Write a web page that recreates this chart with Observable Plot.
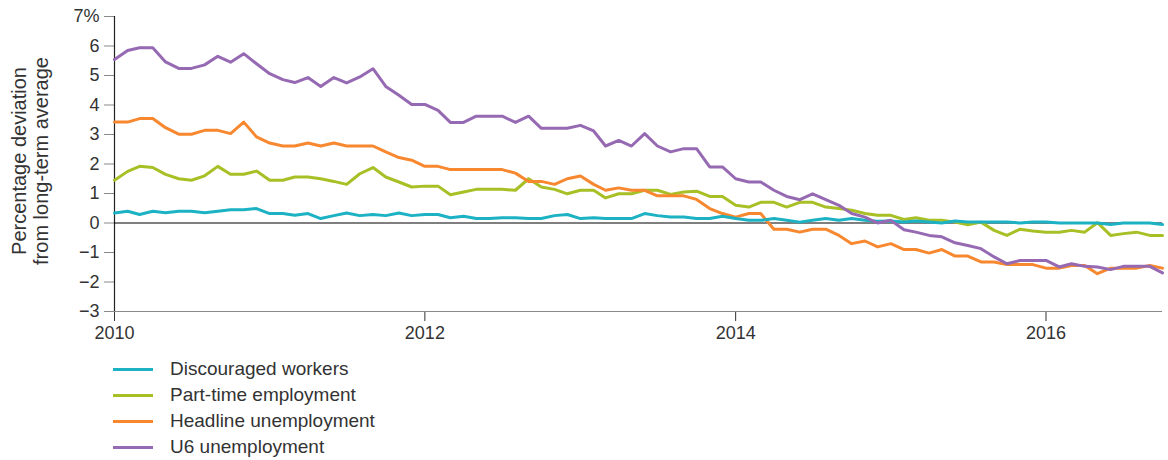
<!DOCTYPE html>
<html><head><meta charset="utf-8">
<script src="https://cdn.jsdelivr.net/npm/d3@7"></script>
<script src="https://cdn.jsdelivr.net/npm/@observablehq/plot@0.6"></script>
<style>
body{margin:0;background:#fff;font-family:"Liberation Sans",Arial,sans-serif;color:#333;}
#legend{margin-top:6px;}
.item{display:flex;align-items:center;height:26px;}
.sw{width:40px;height:3px;margin-left:113px;margin-right:17px;}
.lbl{font-size:19px;color:#333;line-height:26px;}
</style></head><body><div id="chart"></div><div id="legend"></div>
<script>
// Monthly observations, Jan 2010 – Oct 2016
const firstMonth = "2010-01-01";
const lastMonth = "2016-10-01";

const seriesNames = ["Discouraged workers", "Part-time employment", "Headline unemployment", "U6 unemployment"];
const seriesColors = ["#1cb2c4", "#a8bf25", "#f7882f", "#9669b3"];
const drawOrder = ["Part-time employment", "Headline unemployment", "Discouraged workers", "U6 unemployment"];

const discouraged = [
  0.34, 0.40, 0.29, 0.40, 0.35, 0.40, 0.40, 0.35, 0.40, 0.45,
  0.45, 0.49, 0.32, 0.32, 0.26, 0.32, 0.15, 0.25, 0.34, 0.25,
  0.29, 0.25, 0.34, 0.25, 0.29, 0.29, 0.18, 0.23, 0.15, 0.15,
  0.18, 0.18, 0.15, 0.15, 0.25, 0.29, 0.15, 0.18, 0.15, 0.15,
  0.15, 0.32, 0.25, 0.20, 0.20, 0.15, 0.15, 0.23, 0.15, 0.09,
  0.09, 0.15, 0.09, 0.03, 0.09, 0.15, 0.09, 0.15, 0.09, 0.06,
  0.07, 0.03, 0.07, 0.03, 0.00, 0.07, 0.03, 0.03, 0.03, 0.03,
  0.00, 0.03, 0.03, 0.00, 0.00, 0.00, 0.00, -0.05, 0.00, 0.00,
  0.00, -0.05
];
const partTime = [
  1.45, 1.75, 1.92, 1.88, 1.65, 1.50, 1.45, 1.60, 1.92, 1.65,
  1.65, 1.76, 1.45, 1.45, 1.56, 1.56, 1.50, 1.41, 1.31, 1.67,
  1.88, 1.56, 1.39, 1.22, 1.25, 1.25, 0.96, 1.05, 1.14, 1.14,
  1.14, 1.11, 1.50, 1.22, 1.14, 0.99, 1.11, 1.11, 0.85, 0.99,
  0.99, 1.11, 1.11, 0.97, 1.05, 1.08, 0.90, 0.90, 0.60, 0.54,
  0.70, 0.70, 0.54, 0.70, 0.70, 0.54, 0.49, 0.43, 0.32, 0.26,
  0.26, 0.12, 0.18, 0.09, 0.09, 0.03, -0.06, 0.03, -0.25, -0.42,
  -0.21, -0.27, -0.31, -0.31, -0.25, -0.31, 0.01, -0.42, -0.36, -0.31,
  -0.42, -0.42
];
const headline = [
  3.42, 3.42, 3.54, 3.54, 3.23, 3.01, 3.01, 3.14, 3.14, 3.03,
  3.42, 2.92, 2.71, 2.61, 2.61, 2.71, 2.61, 2.71, 2.61, 2.61,
  2.61, 2.41, 2.22, 2.13, 1.92, 1.92, 1.81, 1.81, 1.81, 1.81,
  1.81, 1.69, 1.41, 1.41, 1.31, 1.50, 1.59, 1.31, 1.11, 1.19,
  1.11, 1.11, 0.92, 0.92, 0.92, 0.80, 0.49, 0.32, 0.20, 0.32,
  0.32, -0.21, -0.21, -0.31, -0.21, -0.21, -0.42, -0.70, -0.61, -0.81,
  -0.70, -0.90, -0.90, -1.02, -0.90, -1.12, -1.12, -1.32, -1.32, -1.41,
  -1.41, -1.41, -1.53, -1.53, -1.44, -1.44, -1.72, -1.53, -1.53, -1.53,
  -1.44, -1.53
];
const u6 = [
  5.54, 5.85, 5.94, 5.94, 5.46, 5.24, 5.24, 5.36, 5.65, 5.45,
  5.74, 5.40, 5.06, 4.86, 4.76, 4.93, 4.63, 4.93, 4.75, 4.95,
  5.23, 4.63, 4.33, 4.02, 4.02, 3.82, 3.41, 3.41, 3.62, 3.62,
  3.62, 3.41, 3.62, 3.21, 3.21, 3.21, 3.31, 3.12, 2.61, 2.80,
  2.61, 3.03, 2.61, 2.41, 2.52, 2.52, 1.90, 1.90, 1.50, 1.39,
  1.39, 1.11, 0.90, 0.79, 0.99, 0.79, 0.60, 0.32, 0.20, 0.00,
  0.09, -0.23, -0.31, -0.42, -0.47, -0.67, -0.76, -0.87, -1.15, -1.38,
  -1.27, -1.27, -1.27, -1.49, -1.38, -1.47, -1.49, -1.58, -1.47, -1.47,
  -1.47, -1.69
];

const yTicks = [-3, -2, -1, 0, 1, 2, 3, 4, 5, 6, 7];
const xTickYears = ["2010-01-01", "2012-01-01", "2014-01-01", "2016-01-01"];
const yTitle = ["Percentage deviation", "from long-term average"];

const months = d3.utcMonth.range(new Date(firstMonth), d3.utcMonth.offset(new Date(lastMonth), 1));
const valuesBySeries = {
  "Discouraged workers": discouraged,
  "Part-time employment": partTime,
  "Headline unemployment": headline,
  "U6 unemployment": u6
};
const data = drawOrder.flatMap(s => valuesBySeries[s].map((v, i) => ({series: s, date: months[i], value: v})));

const fmt = d3.format("d");
const plot = Plot.plot({
  width: 1168, height: 350,
  marginLeft: 114, marginRight: 6, marginTop: 16, marginBottom: 39,
  style: {fontFamily: "'Liberation Sans', Arial, sans-serif", fontSize: "18px", color: "#333", background: "#fff", overflow: "visible"},
  x: {type: "utc", domain: [new Date(firstMonth), new Date(lastMonth)]},
  y: {domain: [-3, 7]},
  color: {domain: seriesNames, range: seriesColors},
  marks: [
    Plot.axisY({ticks: yTicks, tickSize: 10, tickPadding: 5, tickFormat: d => d === 7 ? "7%" : fmt(d), stroke: "#888", fill: "#333", fontSize: 18, label: null}),
    Plot.axisX({ticks: xTickYears.map(d => new Date(d)), tickSize: 10, tickPadding: 5, tickFormat: d3.utcFormat("%Y"), stroke: "#333", fill: "#333", fontSize: 18, label: null}),
    Plot.ruleY([-3], {stroke: "#888", strokeWidth: 1.2}),
    Plot.ruleX([new Date(firstMonth)], {y1: -3, y2: 7, stroke: "#222", strokeWidth: 1.2}),
    Plot.ruleY([0], {stroke: "#000", strokeWidth: 1.2}),
    Plot.line(data, {x: "date", y: "value", z: "series", stroke: "series", strokeWidth: 3, strokeLinejoin: "round"})
  ]
});
document.getElementById("chart").appendChild(plot);

const svg = d3.select(plot);
[26, 48].forEach((bx, i) => {
  svg.append("text")
    .attr("transform", `translate(${bx},161) rotate(-90)`)
    .attr("text-anchor", "middle")
    .attr("fill", "#333")
    .style("font-size", "20px")
    .text(yTitle[i]);
});

const legend = d3.select("#legend");
seriesNames.forEach((s, i) => {
  const item = legend.append("div").attr("class", "item");
  item.append("div").attr("class", "sw").style("background", seriesColors[i]);
  item.append("div").attr("class", "lbl").text(s);
});
</script></body></html>
